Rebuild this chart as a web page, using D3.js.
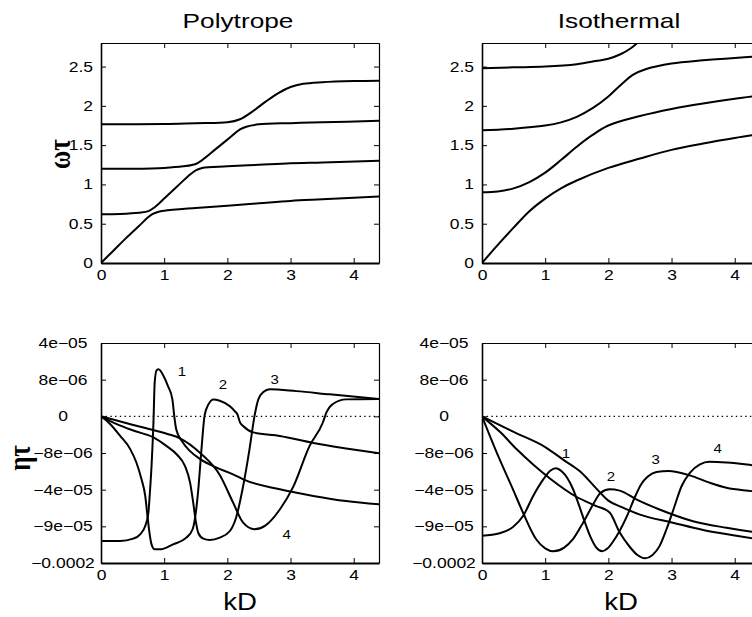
<!DOCTYPE html>
<html>
<head>
<meta charset="utf-8">
<script src="https://cdn.jsdelivr.net/npm/d3@7"></script>
<style>
  body { margin: 0; background: #fff; }
  text { font-family: "Liberation Sans", Arial, Helvetica, sans-serif; fill: #000; }
</style>
</head>
<body>
<div id="chart"></div>
<script>
// ticks
const kTicks = [0, 1, 2, 3, 4]
const omegaTicks = [0, 0.5, 1, 1.5, 2, 2.5]
const etaTicks = [-2e-4, -9e-5, -4e-5, -8e-6, 0, 8e-6, 4e-5]
const etaTickLabels = ['\u22120.0002', '\u22129e\u221205', '\u22124e\u221205', '\u22128e\u221206', '0', '8e\u221206', '4e\u221205']

// Polytrope, omega*tau vs kD
const polyOmega1 = [[0,0],[0.2,0.16],[0.4,0.32],[0.6,0.47],[0.75,0.585],[0.82,0.625],[0.9,0.65],[1.0,0.665],[1.5,0.7],[2.0,0.73],[2.5,0.76],[3.0,0.79],[3.5,0.81],[4.0,0.83],[4.4,0.845]]
const polyOmega2 = [[0,0.62],[0.3,0.625],[0.6,0.64],[0.75,0.66],[0.85,0.71],[1.0,0.82],[1.2,0.97],[1.4,1.12],[1.5,1.18],[1.6,1.21],[2.0,1.23],[2.5,1.25],[3.0,1.27],[3.5,1.28],[4.4,1.30]]
const polyOmega3 = [[0,1.2],[0.5,1.2],[1.0,1.21],[1.3,1.23],[1.5,1.26],[1.6,1.31],[1.8,1.44],[2.0,1.57],[2.2,1.70],[2.3,1.735],[2.5,1.765],[3.0,1.78],[3.5,1.79],[4.4,1.81]]
const polyOmega4 = [[0,1.765],[1.0,1.77],[1.5,1.78],[2.0,1.79],[2.2,1.83],[2.4,1.93],[2.6,2.05],[2.8,2.16],[3.0,2.24],[3.2,2.28],[3.5,2.30],[4.0,2.315],[4.4,2.32]]

// Isothermal, omega*tau vs kD
const isoOmega1 = [[0,0],[0.25,0.23],[0.5,0.45],[0.75,0.66],[1.0,0.82],[1.25,0.95],[1.5,1.05],[2.0,1.21],[2.5,1.33],[3.0,1.44],[3.5,1.52],[4.0,1.59],[4.4,1.64]]
const isoOmega2 = [[0,0.9],[0.25,0.91],[0.5,0.95],[0.75,1.03],[1.0,1.15],[1.25,1.31],[1.5,1.48],[1.75,1.63],[2.0,1.75],[2.5,1.87],[3.0,1.96],[3.5,2.03],[4.0,2.09],[4.4,2.13]]
const isoOmega3 = [[0,1.69],[0.5,1.71],[1.0,1.75],[1.25,1.79],[1.5,1.86],[1.75,1.97],[2.0,2.12],[2.2,2.27],[2.4,2.40],[2.6,2.47],[3.0,2.54],[3.5,2.58],[4.0,2.61],[4.4,2.63]]
const isoOmega4 = [[0,2.48],[0.5,2.49],[1.0,2.5],[1.5,2.53],[1.8,2.57],[2.0,2.6],[2.2,2.66],[2.35,2.73],[2.5,2.83],[2.65,2.95]]

// Polytrope, eta*tau vs kD
const polyEta1 = [[0,-134e-6],[0.3,-134e-6],[0.51,-127e-6],[0.62,-114e-6],[0.70,-89.5e-6],[0.75,-71.5e-6],[0.77,-48.5e-6],[0.80,-19.2e-6],[0.83,-1.4e-6],[0.85,7.4e-6],[0.88,16.3e-6],[0.91,17e-6],[0.99,11.2e-6],[1.06,6.6e-6],[1.13,3.7e-6],[1.16,0],[1.19,-2.8e-6],[1.28,-5.4e-6],[1.41,-7.6e-6],[1.57,-13.4e-6],[1.83,-20.8e-6],[2.09,-26.6e-6],[2.25,-31e-6],[2.83,-39.7e-6],[3.36,-48.5e-6],[3.88,-55.5e-6],[4.4,-60e-6]]
const polyEta2 = [[0,0],[0.14,-1.6e-6],[0.30,-4.2e-6],[0.46,-7.1e-6],[0.56,-16.3e-6],[0.64,-30.7e-6],[0.70,-48.5e-6],[0.73,-71.5e-6],[0.76,-98.8e-6],[0.80,-144e-6],[0.85,-159e-6],[0.93,-159e-6],[1.14,-144e-6],[1.35,-124e-6],[1.45,-98.8e-6],[1.50,-71.5e-6],[1.54,-39.7e-6],[1.59,-7.2e-6],[1.64,0.2e-6],[1.70,2.6e-6],[1.78,3.7e-6],[1.88,3.4e-6],[2.04,2.2e-6],[2.12,1.1e-6],[2.16,0.4e-6],[2.20,-1.3e-6],[2.25,-2.1e-6],[2.41,-3.5e-6],[2.83,-4.3e-6],[3.36,-5.8e-6],[3.88,-7e-6],[4.4,-8.3e-6]]
const polyEta3 = [[0,0],[0.25,-1.7e-6],[0.51,-3.1e-6],[0.83,-4.6e-6],[1.04,-6.5e-6],[1.20,-9.3e-6],[1.33,-19.5e-6],[1.41,-33.9e-6],[1.46,-58e-6],[1.50,-83e-6],[1.54,-110e-6],[1.62,-127e-6],[1.72,-131e-6],[1.88,-124e-6],[2.04,-104e-6],[2.14,-77.5e-6],[2.25,-36.8e-6],[2.35,-7.2e-6],[2.43,0.1e-6],[2.49,3.7e-6],[2.57,5.3e-6],[2.67,5.9e-6],[3.09,5.5e-6],[3.62,4.8e-6],[4.4,3.8e-6]]
const polyEta4 = [[0,0],[0.51,-1.9e-6],[1.04,-3.8e-6],[1.25,-4.8e-6],[1.57,-8e-6],[1.88,-27.2e-6],[2.09,-57.5e-6],[2.25,-85e-6],[2.43,-98.8e-6],[2.6,-89e-6],[2.83,-67e-6],[3.04,-37.8e-6],[3.30,-6.5e-6],[3.51,-1.4e-6],[3.57,0.9e-6],[3.67,2.7e-6],[3.88,3.7e-6],[4.4,3.8e-6]]

// Isothermal, eta*tau vs kD
const isoEta1 = [[0,-118.6e-6],[0.28,-110.9e-6],[0.49,-92.2e-6],[0.65,-76e-6],[0.81,-48.5e-6],[0.97,-31e-6],[1.08,-23.5e-6],[1.17,-21.4e-6],[1.26,-24e-6],[1.35,-29.8e-6],[1.44,-39.4e-6],[1.53,-60e-6],[1.62,-82.5e-6],[1.72,-123e-6],[1.81,-153.8e-6],[1.90,-164.8e-6],[1.99,-156e-6],[2.08,-134e-6],[2.18,-103e-6],[2.30,-75e-6],[2.42,-50e-6],[2.52,-35.2e-6],[2.62,-28.8e-6],[2.76,-24.6e-6],[2.95,-23.7e-6],[3.29,-27.5e-6],[3.60,-33.9e-6],[3.87,-38.4e-6],[4.27,-42e-6],[4.4,-43.5e-6]]
const isoEta2 = [[0,0],[0.23,-7.8e-6],[0.49,-39.7e-6],[0.65,-71.5e-6],[0.86,-129.6e-6],[1.0,-156e-6],[1.13,-164.8e-6],[1.30,-153.8e-6],[1.44,-128.5e-6],[1.60,-85e-6],[1.76,-60e-6],[1.87,-44.8e-6],[2.02,-39.7e-6],[2.18,-41.3e-6],[2.45,-53.5e-6],[2.81,-67e-6],[3.34,-83e-6],[3.87,-94.4e-6],[4.27,-106.5e-6],[4.4,-109.8e-6]]
const isoEta3 = [[0,0],[0.3,-3.6e-6],[0.55,-7.2e-6],[0.8,-17.6e-6],[1.08,-30.4e-6],[1.5,-50e-6],[1.8,-62e-6],[2.02,-71e-6],[2.18,-108.7e-6],[2.34,-152e-6],[2.46,-176e-6],[2.58,-185.7e-6],[2.70,-175.8e-6],[2.81,-149.4e-6],[2.92,-98.8e-6],[3.03,-67e-6],[3.16,-36.8e-6],[3.29,-25.3e-6],[3.45,-17.9e-6],[3.60,-15.7e-6],[3.87,-16.3e-6],[4.27,-18.6e-6],[4.4,-19.5e-6]]
const isoEta4 = [[0,0],[0.5,-3.4e-6],[1.0,-6.7e-6],[1.3,-14.4e-6],[1.55,-24e-6],[1.8,-38.4e-6],[2.0,-55e-6],[2.23,-64.5e-6],[2.5,-74e-6],[3.02,-85e-6],[3.5,-101e-6],[4.0,-117.5e-6],[4.4,-129.6e-6]]

// curve number labels (kD, eta)
const polyEtaLabels = [['1',1.28,15.4e-6],['2',1.93,7e-6],['3',2.75,8e-6],['4',2.94,-114e-6]]
const isoEtaLabels = [['1',1.33,-8.3e-6],['2',2.04,-29e-6],['3',2.75,-13.4e-6],['4',3.73,-7e-6]]

const SX = 1.25   // the scanned figure is stretched sideways
const pw = 278
const ph = 220

const svg = d3.select('#chart')
  .append('svg')
  .attr('width', 752)
  .attr('height', 617)

const xScale = d3.scaleLinear().domain([0, 4.4]).range([0, pw])
const yOmega = d3.scaleLinear().domain([0, 2.8]).range([ph, 0])
const yEta = d3.scaleLinear()
  .domain(etaTicks)
  .range(etaTicks.map((d, i) => ph - i * ph / (etaTicks.length - 1)))

function panel(left, top, yScale, curves, isEta, id) {
  const g = svg.append('g').attr('transform', `translate(${left},${top})`)

  g.append('clipPath').attr('id', 'clip' + id)
    .append('rect').attr('width', pw).attr('height', ph)

  if (isEta) {
    g.append('line')
      .attr('x1', 0).attr('x2', pw)
      .attr('y1', yScale(0)).attr('y2', yScale(0))
      .attr('stroke', '#000')
      .attr('stroke-width', 1.3)
      .attr('stroke-dasharray', '1.4,3.3')
  }

  const line = d3.line()
    .x(d => xScale(d[0]))
    .y(d => yScale(d[1]))
    .curve(isEta ? d3.curveMonotoneX : d3.curveCatmullRom.alpha(0.5))

  g.append('g').attr('clip-path', `url(#clip${id})`)
    .selectAll('path')
    .data(curves)
    .enter()
    .append('path')
    .attr('d', line)
    .attr('fill', 'none')
    .attr('stroke', '#000')
    .attr('stroke-width', 2)

  const xAxis = d3.axisBottom(xScale).tickValues(kTicks)
    .tickFormat(d3.format('d'))
    .tickSizeInner(-5).tickSizeOuter(0).tickPadding(7)
  const xTop = d3.axisTop(xScale).tickValues(kTicks)
    .tickSizeInner(-5).tickSizeOuter(0).tickFormat('')

  let yAxis, yRight
  if (isEta) {
    yAxis = d3.axisLeft(yScale).tickValues(etaTicks)
      .tickFormat((d, i) => etaTickLabels[i])
    yRight = d3.axisRight(yScale).tickValues(etaTicks).tickFormat('')
  } else {
    yAxis = d3.axisLeft(yScale).tickValues(omegaTicks).tickFormat(d3.format('~g'))
    yRight = d3.axisRight(yScale).tickValues(omegaTicks).tickFormat('')
  }
  yAxis.tickSizeInner(-5).tickSizeOuter(0)
  yRight.tickSizeInner(-5).tickSizeOuter(0)

  const gx = g.append('g').attr('transform', `translate(0,${ph})`).call(xAxis)
  g.append('g').call(xTop)
  const gy = g.append('g').call(yAxis)
  g.append('g').attr('transform', `translate(${pw},0)`).call(yRight)

  g.selectAll('.domain').attr('stroke', '#000').attr('stroke-width', 1.2)
  gx.select('.domain').attr('stroke-width', 1.8)
  gy.select('.domain').attr('stroke-width', 1.6)
  g.selectAll('.tick line').attr('stroke', '#000').attr('stroke-width', 1)

  gx.selectAll('text')
    .attr('font-size', 14)
    .attr('font-family', null)
    .attr('transform', `scale(${SX},1)`)

  if (isEta) {
    gy.selectAll('text')
      .attr('font-size', 14)
      .attr('font-family', null)
      .attr('text-anchor', 'middle')
      .attr('x', 0)
      .attr('transform', `translate(-38,0) scale(${SX},1)`)
  } else {
    gy.selectAll('text')
      .attr('font-size', 14)
      .attr('font-family', null)
      .attr('x', 0)
      .attr('transform', `translate(-8,0) scale(${SX},1)`)
  }
  return g
}

const tl = panel(101, 43, yOmega, [polyOmega1, polyOmega2, polyOmega3, polyOmega4], false, 'tl')
const tr = panel(482, 43, yOmega, [isoOmega1, isoOmega2, isoOmega3, isoOmega4], false, 'tr')
const bl = panel(101, 343, yEta, [polyEta1, polyEta2, polyEta3, polyEta4], true, 'bl')
const br = panel(482, 343, yEta, [isoEta1, isoEta2, isoEta3, isoEta4], true, 'br')

function curveLabels(g, labels) {
  g.selectAll('.clabel')
    .data(labels)
    .enter()
    .append('text')
    .attr('class', 'clabel')
    .attr('text-anchor', 'middle')
    .attr('dy', '0.36em')
    .attr('font-size', 12)
    .attr('transform', d => `translate(${xScale(d[1])},${yEta(d[2])}) scale(${SX},1)`)
    .text(d => d[0])
}
curveLabels(bl, polyEtaLabels)
curveLabels(br, isoEtaLabels)

// titles
svg.append('text')
  .attr('text-anchor', 'middle')
  .attr('font-size', 21)
  .attr('transform', `translate(238,28) scale(${SX},1)`)
  .text('Polytrope')

svg.append('text')
  .attr('text-anchor', 'middle')
  .attr('font-size', 21)
  .attr('transform', `translate(619,28) scale(${SX},1)`)
  .text('Isothermal')

// axis labels
svg.append('text')
  .attr('text-anchor', 'middle')
  .attr('font-size', 24)
  .attr('transform', `translate(240,610) scale(1.15,1)`)
  .text('kD')

svg.append('text')
  .attr('text-anchor', 'middle')
  .attr('font-size', 24)
  .attr('transform', `translate(621,610) scale(1.15,1)`)
  .text('kD')

svg.append('text')
  .attr('text-anchor', 'middle')
  .attr('dy', '0.3em')
  .attr('font-size', 25)
  .attr('font-weight', 'bold')
  .style('font-family', '"Liberation Serif", "DejaVu Serif", serif')
  .attr('transform', `translate(61,154) rotate(-90) scale(1,${SX})`)
  .text('ωτ')

svg.append('text')
  .attr('text-anchor', 'middle')
  .attr('dy', '0.3em')
  .attr('font-size', 25)
  .attr('font-weight', 'bold')
  .style('font-family', '"Liberation Serif", "DejaVu Serif", serif')
  .attr('transform', `translate(21,458) rotate(-90) scale(1,${SX})`)
  .text('ητ')
</script>
</body>
</html>
